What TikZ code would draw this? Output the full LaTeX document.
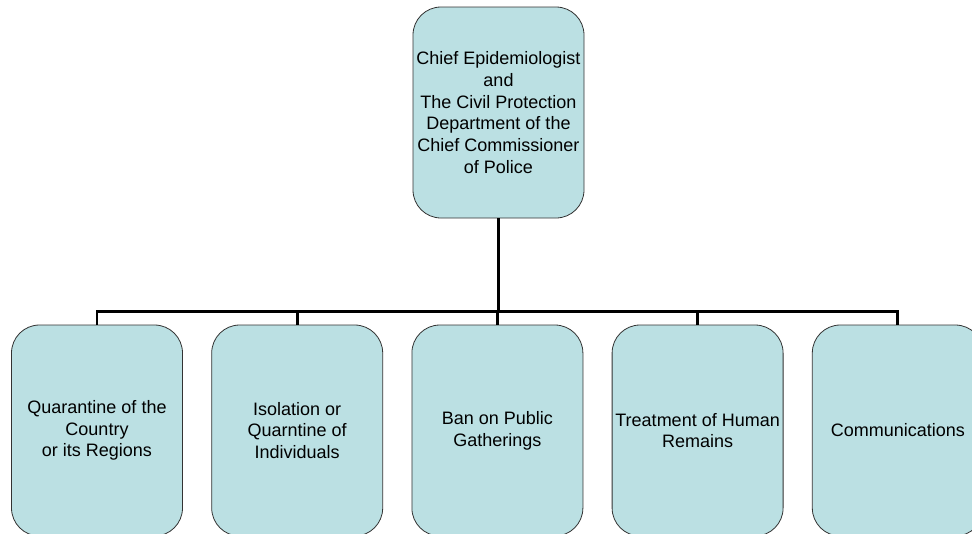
\documentclass[tikz,border=0pt]{standalone}
\usepackage{fontspec}
\setmainfont{Liberation Sans}
\usepackage{tikz}
\usetikzlibrary{positioning}
\definecolor{clrBorders}{RGB}{51,51,51}
\definecolor{clrFill}{RGB}{187,224,227}
\tikzstyle{box_style}=[draw=clrBorders, line width=0.8pt, rounded corners=28pt,
anchor=center, align=center, text=black, fill=clrFill]
\tikzstyle{orgbox}=[box_style, minimum width=171pt, minimum height=211pt, inner sep=0pt,
font=\fontsize{18}{21.8}\selectfont]
\tikzstyle{bus}=[line width=2.8pt, black]
\begin{document}
\begin{tikzpicture}[x=1pt, y=-1pt, node distance=28.4pt]
		\useasboundingbox (0,0) rectangle (972,533);

		\node[orgbox] (A) at (498.5,112.5) {Chief Epidemiologist\\and\\The Civil Protection\\Department of the\\Chief Commissioner\\of Police} ;

		\node[orgbox] (B) at (97,430.5) {Quarantine of the\\Country\\or its Regions} ;
		\node[orgbox, right=of B] (C) {Isolation or\\Quarntine of\\Individuals} ;
		\node[orgbox, right=of C] (D) {Ban on Public\\Gatherings} ;
		\node[orgbox, right=of D] (E) {Treatment of Human\\Remains} ;
		\node[orgbox, right=of E] (F) {Communications} ;

		% bus from the top box to each department
		\foreach \n in {B,C,D,E,F}
			\draw[bus] (A.south) -- ++(0,93) -| (\n.north) ;

	\end{tikzpicture}
\end{document}
